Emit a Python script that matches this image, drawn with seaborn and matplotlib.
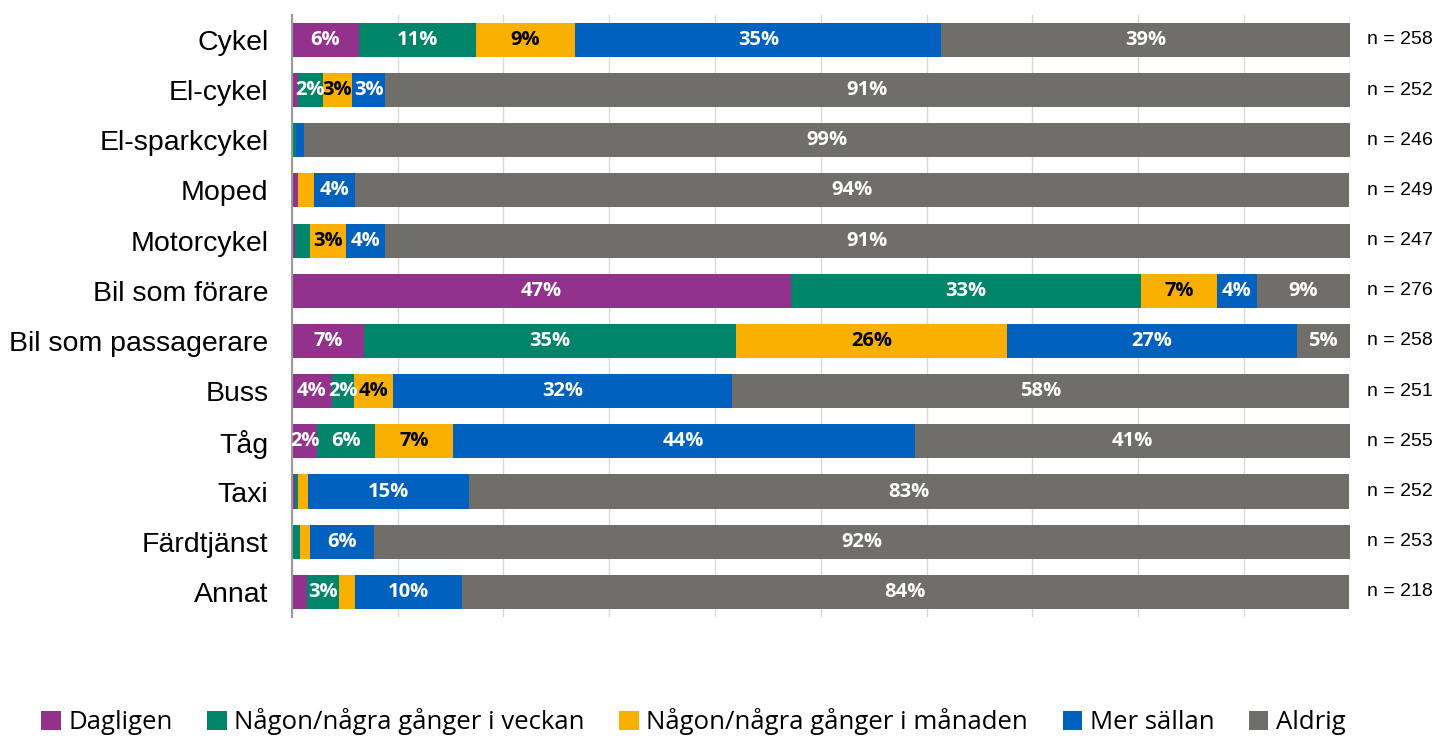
import numpy as np
import pandas as pd
import matplotlib
matplotlib.use("Agg")
import matplotlib.pyplot as plt
import seaborn as sns
from matplotlib.patches import Patch

categories = ["Cykel", "El-cykel", "El-sparkcykel", "Moped", "Motorcykel",
              "Bil som förare", "Bil som passagerare", "Buss", "Tåg", "Taxi",
              "Färdtjänst", "Annat"]
n_values = [258, 252, 246, 249, 247, 276, 258, 251, 255, 252, 253, 218]

series_names = ["Dagligen", "Någon/några gånger i veckan",
                "Någon/några gånger i månaden", "Mer sällan", "Aldrig"]
dagligen = [6.3, 0.6, 0.0, 0.6, 0.3, 47.2, 6.8, 3.8, 2.4, 0.3, 0.0, 1.4]
vecka    = [11.1, 2.3, 0.4, 0.0, 1.4, 33.1, 35.2, 2.1, 5.5, 0.3, 0.8, 3.1]
manad    = [9.4, 2.8, 0.0, 1.45, 3.4, 7.2, 25.6, 3.7, 7.3, 0.9, 0.9, 1.45]
sallan   = [34.6, 3.1, 0.7, 3.9, 3.7, 3.7, 27.4, 32.0, 43.7, 15.2, 6.1, 10.1]
aldrig   = [38.6, 91.2, 98.9, 94.0, 91.2, 8.9, 5.0, 58.3, 41.1, 83.2, 92.2, 83.9]

colors = ["#92328C", "#00856A", "#F9B000", "#0061BE", "#706E68"]
text_colors = ["white", "white", "black", "white", "white"]

series = [dagligen, vecka, manad, sallan, aldrig]
df = pd.DataFrame({name: vals for name, vals in zip(series_names, series)})
df["Kategori"] = categories
cum = df[series_names].cumsum(axis=1)

sns.set_theme(style="white")
plt.rcParams["font.family"] = ["Liberation Sans", "DejaVu Sans"]
plt.rcParams["text.color"] = "black"
plt.rcParams["ytick.color"] = "black"

fig = plt.figure(figsize=(14.45, 7.38), dpi=100)
ax = fig.add_axes([0.202, 0.164, 0.732, 0.816])

ax.set_axisbelow(True)
for i in range(len(series_names) - 1, -1, -1):
    d = pd.DataFrame({"Kategori": categories, "v": cum[series_names[i]].values})
    sns.barplot(data=d, x="v", y="Kategori", orient="h", color=colors[i],
                saturation=1, width=0.68, ax=ax, linewidth=0, zorder=2)

for j, cat in enumerate(categories):
    left = 0.0
    for i, name in enumerate(series_names):
        v = df.loc[j, name]
        if round(v) >= 2:
            ax.text(left + v / 2, j, f"{round(v)}%", ha="center", va="center",
                    color=text_colors[i], fontsize=14.5, fontweight="bold",
                    family=["Open Sans", "DejaVu Sans"], zorder=5)
        left += v
    ax.text(1.016, j, f"n = {n_values[j]}", transform=ax.get_yaxis_transform(),
            ha="left", va="center", fontsize=14, color="black")

ax.set_xlim(0, 100)
ax.set_ylim(len(categories) - 0.5, -0.5)
ax.set_xticks(np.arange(0, 101, 10))
ax.set_xticklabels([])
ax.xaxis.grid(True, color="#D9D9D9", linewidth=1)
ax.tick_params(axis="x", length=0)
ax.set_xlabel("")
ax.set_ylabel("")
ax.tick_params(axis="y", which="major", length=0, pad=17, labelsize=20.5, labelcolor="black")
ax.set_yticks(np.arange(-0.5, len(categories), 1), minor=True)
ax.tick_params(axis="y", which="minor", length=7, width=1.2, color="#9A9A9A", direction="out")
for s in ["top", "right", "bottom"]:
    ax.spines[s].set_visible(False)
ax.spines["left"].set_color("#9A9A9A")
ax.spines["left"].set_linewidth(1.5)

handles = [Patch(facecolor=c, edgecolor="none") for c in colors]
fig.legend(handles, series_names, loc="center", bbox_to_anchor=(0.48, 0.022),
           ncol=5, frameon=False, handlelength=0.75, handleheight=0.75,
           handletextpad=0.3, columnspacing=1.35,
           prop={"family": ["Open Sans", "DejaVu Sans"], "size": 18.5})

fig.savefig("out.png", dpi=100)
